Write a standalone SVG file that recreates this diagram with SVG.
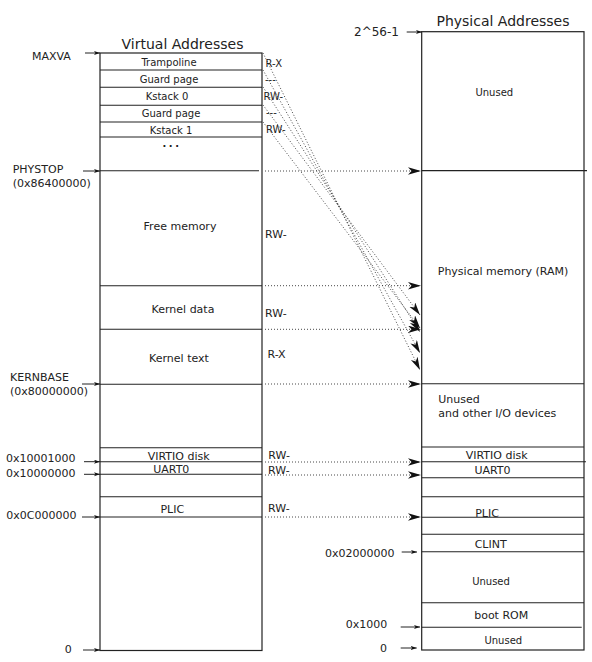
<svg xmlns="http://www.w3.org/2000/svg" width="592" height="662" viewBox="0 0 592 662">
<style>
text{font-family:"DejaVu Sans","Liberation Sans",sans-serif;fill:#222}
.t14{font-size:14px}
.t11{font-size:11px}
.t10{font-size:10px}
.c{text-anchor:middle}
.box{fill:#fff;stroke:#222;stroke-width:1.2}
.div{stroke:#222;stroke-width:1.1}
.ptr{stroke:#222;stroke-width:1}
.dot{stroke:#333;stroke-width:0.9;stroke-dasharray:1 2;fill:none}
</style>
<defs>
<marker id="big" markerUnits="userSpaceOnUse" markerWidth="14" markerHeight="8" refX="13" refY="3.7" orient="auto">
<path d="M0,0 L13,3.7 L0,7.4 L3.5,3.7 Z" fill="#111"/>
</marker>
<marker id="small" markerUnits="userSpaceOnUse" markerWidth="7" markerHeight="5" refX="6" refY="2" orient="auto">
<path d="M0,0 L6,2 L0,4 L1.5,2 Z" fill="#111"/>
</marker>
</defs>

<g id="virtual-space">
<text class="t14 c" x="182.5" y="49">Virtual Addresses</text>
<rect class="box" x="100" y="53" width="162" height="597.5"/>
</g>
<g id="v-trampoline"><line class="div" x1="100" y1="70" x2="262" y2="70"/><text class="t10 c" x="169" y="66">Trampoline</text><text class="t10" x="265.5" y="66.5">R-X</text></g>
<g id="v-guard0"><line class="div" x1="100" y1="87.3" x2="262" y2="87.3"/><text class="t10 c" x="169" y="82.5">Guard page</text><text class="t10" x="265" y="82.7">---</text></g>
<g id="v-kstack0"><line class="div" x1="100" y1="105.3" x2="262" y2="105.3"/><text class="t10 c" x="167" y="100">Kstack 0</text><text class="t10" x="263.5" y="100">RW-</text></g>
<g id="v-guard1"><line class="div" x1="100" y1="122" x2="262" y2="122"/><text class="t10 c" x="171" y="117">Guard page</text><text class="t10" x="266" y="115.7">---</text></g>
<g id="v-kstack1"><line class="div" x1="100" y1="137" x2="262" y2="137"/><text class="t10 c" x="171" y="134">Kstack 1</text><text class="t10" x="266" y="132.7">RW-</text></g>
<g id="v-dots"><text class="c" x="172" y="146.5" style="font-size:10px;font-weight:bold;letter-spacing:2.5px">...</text></g>
<g id="v-phystop"><line class="div" x1="100" y1="170.7" x2="259" y2="170.7"/></g>
<g id="v-free"><line class="div" x1="100" y1="285.7" x2="262" y2="285.7"/><text class="t11 c" x="180" y="230">Free memory</text><text class="t11" x="265" y="238.3">RW-</text></g>
<g id="v-kdata"><line class="div" x1="100" y1="329.3" x2="262" y2="329.3"/><text class="t11 c" x="183" y="313.3">Kernel data</text><text class="t11" x="265" y="316.7">RW-</text></g>
<g id="v-ktext"><line class="div" x1="100" y1="384.3" x2="262" y2="384.3"/><text class="t11 c" x="179" y="361.7">Kernel text</text><text class="t11" x="267.5" y="358.3">R-X</text></g>
<g id="v-virtio"><line class="div" x1="100" y1="447.7" x2="262" y2="447.7"/><line class="div" x1="100" y1="461.7" x2="262" y2="461.7"/><text class="t11 c" x="178.7" y="460">VIRTIO disk</text><text class="t11" x="268.3" y="459">RW-</text></g>
<g id="v-uart0"><line class="div" x1="100" y1="474.3" x2="262" y2="474.3"/><text class="t11 c" x="171.3" y="473.3">UART0</text><text class="t11" x="268" y="474">RW-</text></g>
<g id="v-plic"><line class="div" x1="100" y1="496.7" x2="262" y2="496.7"/><line class="div" x1="100" y1="517" x2="262" y2="517"/><text class="t11 c" x="172.3" y="513">PLIC</text><text class="t11" x="268" y="512.3">RW-</text></g>

<g id="v-labels">
<text class="t11" x="32" y="60">MAXVA</text>
<text class="t11" x="12.7" y="173.3">PHYSTOP</text>
<text class="t11" x="12.7" y="186.7">(0x86400000)</text>
<text class="t11" x="10" y="380.7">KERNBASE</text>
<text class="t11" x="10" y="395">(0x80000000)</text>
<text class="t11" x="6" y="462">0x10001000</text>
<text class="t11" x="6" y="476.7">0x10000000</text>
<text class="t11" x="6.3" y="519.3">0x0C000000</text>
<text class="t11" x="64.7" y="652.7">0</text>
</g>

<g id="physical-space">
<text class="t14 c" x="503" y="25.5">Physical Addresses</text>
<rect class="box" x="421.7" y="31.7" width="162.3" height="618.3"/>
</g>
<g id="p-unused-top"><text class="t10 c" x="494.3" y="95.7">Unused</text><line class="div" x1="421.7" y1="170.7" x2="587" y2="170.7" style="stroke-width:1.3"/></g>
<g id="p-ram"><text class="t11 c" x="503" y="274.7">Physical memory (RAM)</text><line class="div" x1="421.7" y1="383.7" x2="584" y2="383.7"/></g>
<g id="p-io"><text class="t11" x="438.3" y="403.3">Unused</text><text class="t11" x="438.3" y="416.5">and other I/O devices</text><line class="div" x1="421.7" y1="447" x2="584" y2="447"/></g>
<g id="p-virtio"><text class="t11 c" x="496.7" y="459.3">VIRTIO disk</text><line class="div" x1="421.7" y1="461.7" x2="586" y2="461.7"/></g>
<g id="p-uart0"><text class="t11 c" x="492.5" y="474">UART0</text><line class="div" x1="421.7" y1="477.7" x2="584" y2="477.7"/><line class="div" x1="421.7" y1="496.7" x2="584" y2="496.7"/></g>
<g id="p-plic"><text class="t11 c" x="487" y="516.7">PLIC</text><line class="div" x1="421.7" y1="517.3" x2="584" y2="517.3"/><line class="div" x1="421.7" y1="534.3" x2="584" y2="534.3"/></g>
<g id="p-clint"><text class="t11 c" x="490.7" y="547.7">CLINT</text><line class="div" x1="421.7" y1="551.7" x2="584" y2="551.7"/></g>
<g id="p-unused-mid"><text class="t10 c" x="491" y="585">Unused</text><line class="div" x1="421.7" y1="602.7" x2="584" y2="602.7"/></g>
<g id="p-bootrom"><text class="t11 c" x="501.2" y="619">boot ROM</text><line class="div" x1="421.7" y1="627.3" x2="581.7" y2="627.3"/></g>
<g id="p-unused-low"><text class="t10 c" x="503.3" y="644.3">Unused</text></g>

<g id="p-labels">
<text x="354" y="36" style="font-size:12px">2^56-1</text>
<text class="t11" x="325" y="556.7">0x02000000</text>
<text class="t11" x="345.7" y="628.3">0x1000</text>
<text class="t11" x="380" y="651.7">0</text>
</g>

<g id="connectors">
<line class="ptr" x1="85" y1="53" x2="100" y2="53" marker-end="url(#small)"/>
<line class="ptr" x1="83" y1="171" x2="100" y2="171" marker-end="url(#small)"/>
<line class="ptr" x1="82" y1="384" x2="100" y2="384" marker-end="url(#small)"/>
<line class="ptr" x1="84" y1="461.7" x2="100" y2="461.7" marker-end="url(#small)"/>
<line class="ptr" x1="84" y1="474.3" x2="100" y2="474.3" marker-end="url(#small)"/>
<line class="ptr" x1="82" y1="517" x2="100" y2="517" marker-end="url(#small)"/>
<line class="ptr" x1="83" y1="650" x2="100" y2="650" marker-end="url(#small)"/>
<line class="ptr" x1="406.7" y1="32" x2="422" y2="32" marker-end="url(#small)"/>
<line class="ptr" x1="401.7" y1="552" x2="417" y2="552" marker-end="url(#small)"/>
<line class="ptr" x1="400.7" y1="627" x2="420" y2="627" marker-end="url(#small)"/>
<line class="ptr" x1="400.7" y1="648" x2="416.7" y2="648" marker-end="url(#small)"/>

<line class="dot" x1="265" y1="171" x2="421" y2="171" marker-end="url(#big)"/>
<line class="dot" x1="265" y1="285.7" x2="421" y2="285.7" marker-end="url(#big)"/>
<line class="dot" x1="265" y1="329.3" x2="421" y2="329.3" marker-end="url(#big)"/>
<line class="dot" x1="265" y1="384" x2="421" y2="384" marker-end="url(#big)"/>
<line class="dot" x1="265" y1="462" x2="421" y2="462" marker-end="url(#big)"/>
<line class="dot" x1="265" y1="475" x2="421" y2="475" marker-end="url(#big)"/>
<line class="dot" x1="265" y1="517" x2="421" y2="517" marker-end="url(#big)"/>

<line class="dot" x1="263" y1="53" x2="420" y2="370" marker-end="url(#big)"/>
<line class="dot" x1="263" y1="70" x2="420" y2="353" marker-end="url(#big)"/>
<line class="dot" x1="263" y1="87" x2="420" y2="332" marker-end="url(#big)"/>
<line class="dot" x1="263" y1="105" x2="420" y2="315" marker-end="url(#big)"/>
<line class="dot" x1="263" y1="122" x2="420" y2="328" marker-end="url(#big)"/>
</g>
</svg>
